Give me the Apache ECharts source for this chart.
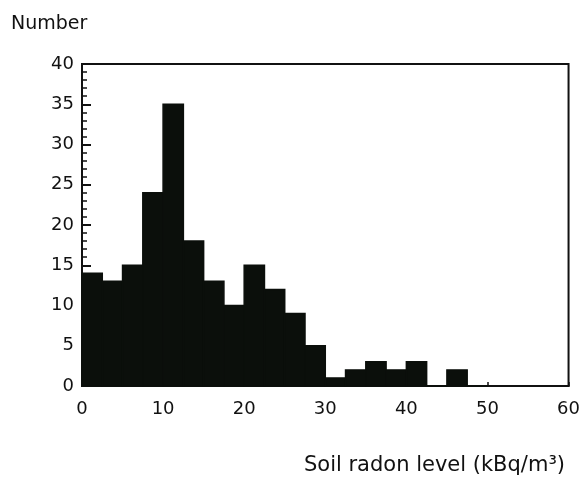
<!DOCTYPE html>
<html>
<head>
<meta charset="utf-8">
<script src="https://cdn.jsdelivr.net/npm/echarts@6/dist/echarts.min.js"></script>
<style>
  html, body { margin: 0; padding: 0; background: #fff; }
  #chart { width: 583px; height: 488px; }
</style>
</head>
<body>
<div id="chart"></div>
<script>
// Histogram bins (soil radon level, kBq/m3) and counts
const binStarts = [0, 2.5, 5, 7.5, 10, 12.5, 15, 17.5, 20, 22.5, 25, 27.5, 30, 32.5, 35, 37.5, 40, 42.5, 45, 47.5];
const binEnds   = [2.5, 5, 7.5, 10, 12.5, 15, 17.5, 20, 22.5, 25, 27.5, 30, 32.5, 35, 37.5, 40, 42.5, 45, 47.5, 50];
const counts    = [14, 13, 15, 24, 35, 18, 13, 10, 15, 12, 9, 5, 1, 2, 3, 2, 3, 0, 2, 0];
const xTicks = [0, 10, 20, 30, 40, 50, 60];
const yTicks = [0, 5, 10, 15, 20, 25, 30, 35, 40];
const yTitle = 'Number';
const xTitle = 'Soil radon level (kBq/m\u00B3)';

const data = binStarts.map((s, i) => [s, binEnds[i], counts[i]]);

const chart = echarts.init(document.getElementById('chart'), null, { renderer: 'canvas' });
const font = 'DejaVu Sans';

chart.setOption({
  animation: false,
  backgroundColor: '#ffffff',
  title: [
    { text: yTitle, left: 6, top: 10,
      textStyle: { fontFamily: font, fontSize: 19, fontWeight: 'normal', color: '#111' } },
    { text: xTitle, right: 13, top: 450,
      textStyle: { fontFamily: font, fontSize: 21, fontWeight: 'normal', color: '#111' } }
  ],
  grid: {
    left: 82, right: 10, top: 64, bottom: 102,
    show: true, borderColor: '#111', borderWidth: 2, backgroundColor: 'transparent'
  },
  xAxis: {
    type: 'value',
    min: xTicks[0], max: xTicks[xTicks.length - 1], interval: 10,
    axisLine: { show: true, lineStyle: { color: '#111', width: 2 } },
    axisTick: { show: true, inside: true, length: 4, lineStyle: { color: '#111', width: 1.5 } },
    splitLine: { show: false },
    axisLabel: { fontFamily: font, fontSize: 18, color: '#111', margin: 14,
      customValues: xTicks },
  },
  yAxis: {
    type: 'value',
    min: yTicks[0], max: yTicks[yTicks.length - 1], interval: 5,
    axisLine: { show: true, lineStyle: { color: '#111', width: 2 } },
    axisTick: { show: true, inside: true, length: 9, lineStyle: { color: '#111', width: 2 } },
    minorTick: { show: true, splitNumber: 5, length: 5, lineStyle: { color: '#111', width: 1.5 } },
    splitLine: { show: false },
    axisLabel: { fontFamily: font, fontSize: 18, color: '#111', margin: 8 }
  },
  series: [{
    type: 'custom',
    data: data,
    encode: { x: [0, 1], y: 2 },
    renderItem: function (params, api) {
      const topLeft = api.coord([api.value(0), api.value(2)]);
      const bottomRight = api.coord([api.value(1), 0]);
      return {
        type: 'rect',
        shape: {
          x: topLeft[0], y: topLeft[1],
          width: bottomRight[0] - topLeft[0],
          height: bottomRight[1] - topLeft[1]
        },
        style: { fill: '#0b0f0b', stroke: '#0b0f0b', lineWidth: 1.5 }
      };
    }
  }]
});
</script>
</body>
</html>
